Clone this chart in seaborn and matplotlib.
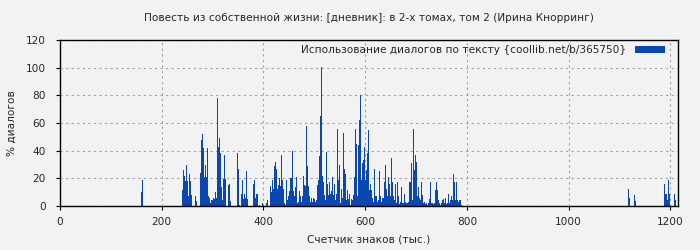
import numpy as np
import pandas as pd
import matplotlib
matplotlib.use("Agg")
import matplotlib.pyplot as plt
import seaborn as sns

title = "Повесть из собственной жизни: [дневник]: в 2-х томах, том 2 (Ирина Кнорринг)"
xlabel = "Счетчик знаков (тыс.)"
ylabel = "% диалогов"
legend_label = "Использование диалогов по тексту {coollib.net/b/365750}"

bin_step = 1.966  # thousand characters per bin
n_bins = 618

# segments: (first bin index, values in %)
seg1_start = 81
seg1_vals = [10, 19]

seg2_start = 122
seg2_vals = [
    11.6, 26, 22, 18, 30, 18, 7.5, 23, 18, 8,
    0, 0, 0, 7.5, 3.6, 0, 0, 0, 24, 48,
    52, 42, 21, 30, 21, 42, 7, 5.5, 2, 4.3,
    4, 6, 5, 10, 5.5, 78, 43, 49, 38, 14,
    4, 19.5, 37, 19.5, 0, 0, 15, 16, 3.6, 0,
    0, 0, 0, 0, 0, 38, 27, 0.5, 0, 9,
    18.5, 5, 9, 5.5, 25, 5, 0, 0, 0, 0,
    0, 16, 19, 5.5, 8.7, 8.7, 0, 1, 0, 0,
    2.4, 1, 0, 0, 2, 4, 0, 0, 14.5, 10,
    19, 12, 29, 32, 26.5, 12, 15, 20, 14.5, 37,
    19, 12, 2, 1, 19, 4, 7, 11, 20, 20,
    40, 11, 7, 14, 21, 2.4, 3, 11, 7, 3,
    7, 22, 15, 14.5, 58, 29, 14.5, 7, 3, 5.5,
    3, 5.5, 5, 3, 4, 15, 19, 36, 65, 100.7,
    22, 17.5, 8, 4, 39, 16, 8,
    17, 9, 11, 21, 8, 16, 4, 9, 56, 19,
    30, 2, 12, 5.5, 53, 26.5, 23, 4, 11.6, 5,
    9, 1, 5, 4, 8, 21, 56, 45, 7, 44,
    62, 80, 19, 31, 33, 43, 19, 26, 38, 55,
    11.6, 16, 11.6, 5.5, 3, 27, 7, 7, 3, 4,
    25, 7.5, 3, 5.5, 6, 17, 30, 12, 7, 21,
    16, 7, 34.5, 17, 7, 4, 16, 2, 17.5, 7,
    1.5, 3, 14, 2.4, 2, 9, 3, 2.4, 2, 3,
    17, 17.5, 31, 4, 55.5, 26, 37, 32, 7, 14,
    5.5, 4, 17, 8, 2, 3, 1.5, 2, 1, 2,
    5, 17.5, 2, 2, 1.5, 2, 11.6, 17.5, 11.6, 4,
    2, 1, 2, 4, 5, 2, 5.5, 1.5, 2.4, 9,
    2.4, 4, 7, 4, 23, 17.5, 4, 17.5, 4, 3,
    4, 4, 1,
]

seg3_start = 568
seg3_vals = [12, 5.7, 0, 0, 0, 0, 8, 3.6]

seg4_start = 604
seg4_vals = [16, 8.4, 9, 4.3, 19, 9, 0, 0, 0, 0, 9, 4.3]

segments = [(seg1_start, seg1_vals), (seg2_start, seg2_vals),
            (seg3_start, seg3_vals), (seg4_start, seg4_vals)]

idx, vals = [], []
for s, v in segments:
    idx.extend(range(s, s + len(v)))
    vals.extend(v)
idx = np.array(idx)
df = pd.DataFrame({"pos": (idx + 0.5) * bin_step, "pct": vals})

bg = "#f2f2f2"
sns.set_theme(style="white")
plt.rcParams["font.family"] = ["DejaVu Sans"]

fs = 7.6
fig = plt.figure(figsize=(7, 2.5), dpi=100, facecolor=bg)
ax = fig.add_axes([0.0857, 0.176, 0.883, 0.664])
ax.set_facecolor(bg)

sns.histplot(data=df, x="pos", weights="pct", bins=n_bins,
             binrange=(0, n_bins * bin_step), ax=ax,
             color="#0a47b0", alpha=1, linewidth=0,
             element="bars", fill=True, label=legend_label)

ax.set_xlim(0, 1215)
ax.set_ylim(0, 120)
ax.set_xticks(range(0, 1201, 200))
ax.set_yticks(range(0, 121, 20))
ax.grid(True, color="#a0a0a0", linestyle=(0, (2, 3)), linewidth=0.8)
ax.set_axisbelow(True)
for sp in ax.spines.values():
    sp.set_color("black")
    sp.set_linewidth(1.0)
ax.tick_params(axis="both", labelsize=fs, length=3, width=0.8, color="black",
               direction="out", bottom=True, left=True)
ax.tick_params(axis="y", pad=7)
ax.tick_params(axis="x", pad=5)
ax.set_xlabel(xlabel, fontsize=fs, labelpad=5)
ax.set_ylabel(ylabel, fontsize=fs, labelpad=7)
ax.set_title(title, fontsize=fs, pad=13.5)

leg = ax.legend(loc="upper right", frameon=False, fontsize=fs, markerfirst=False,
                handlelength=2.9, handleheight=0.6, borderaxespad=0.8,
                handletextpad=0.8)
leg.set_bbox_to_anchor((1.0, 1.045), transform=ax.transAxes)

fig.savefig("out.png", dpi=100, facecolor=bg)
